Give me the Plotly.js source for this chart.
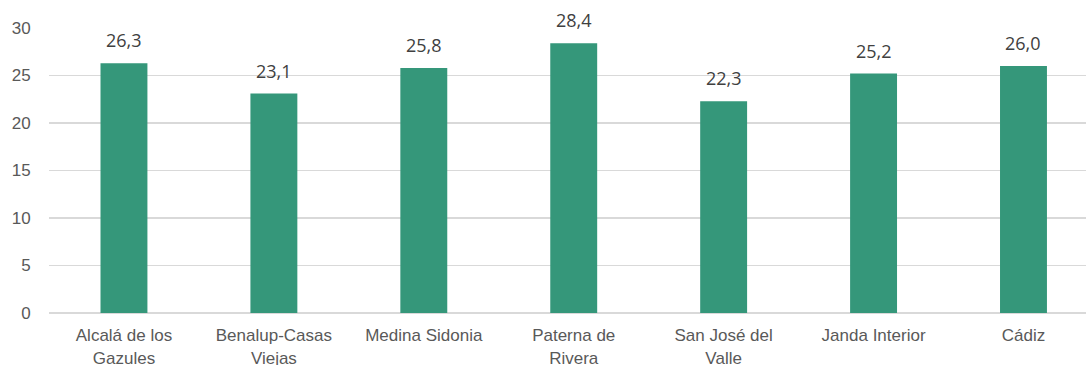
<!DOCTYPE html>
<html>
<head>
<meta charset="utf-8">
<script src="https://cdn.plot.ly/plotly-3.0.1.min.js"></script>
<style>
html,body{margin:0;padding:0;background:#fff;overflow:hidden;}
#chart{width:1086px;height:365px;}
</style>
</head>
<body>
<div id="chart"></div>
<script>
const categories = ["Alcalá de los<br>Gazules", "Benalup-Casas<br>Viejas", "Medina Sidonia", "Paterna de<br>Rivera", "San José del<br>Valle", "Janda Interior", "Cádiz"];
const values = [26.3, 23.1, 25.8, 28.4, 22.3, 25.2, 26.0];
const valueLabels = ["26,3", "23,1", "25,8", "28,4", "22,3", "25,2", "26,0"];
const yTicks = [0, 5, 10, 15, 20, 25, 30];

const trace = {
  type: 'bar',
  x: categories,
  y: values,
  width: 0.313,
  marker: {color: '#35977a', line: {width: 0}},
  hoverinfo: 'none'
};

const annotations = categories.map((c, i) => ({
  x: c, y: values[i], xref: 'x', yref: 'y',
  text: valueLabels[i], showarrow: false,
  yanchor: 'bottom', yshift: 9,
  font: {family: 'Open Sans, sans-serif', size: 18, color: '#404040'}
}));

const layout = {
  width: 1086, height: 365,
  margin: {l: 49, r: 0, t: 28, b: 52},
  paper_bgcolor: '#fff', plot_bgcolor: '#fff',
  showlegend: false,
  xaxis: {
    type: 'category',
    range: [-0.5, 6.417],
    showgrid: false, zeroline: false,
    showline: false,
    ticks: 'outside', ticklen: 7, tickcolor: 'rgba(0,0,0,0)',
    tickfont: {family: 'Liberation Sans, Arial, sans-serif', size: 17, color: '#595959'},
    automargin: false, fixedrange: true
  },
  yaxis: {
    range: [0, 30],
    tickvals: yTicks,
    ticktext: yTicks.map(String),
    showgrid: true, gridcolor: '#d9d9d9', gridwidth: 1.5,
    zeroline: true, zerolinecolor: '#d9d9d9', zerolinewidth: 1.5,
    ticks: 'outside', ticklen: 14, tickcolor: 'rgba(0,0,0,0)',
    tickfont: {family: 'Liberation Sans, Arial, sans-serif', size: 17, color: '#595959'},
    automargin: false, fixedrange: true
  },
  annotations: annotations
};

Plotly.newPlot('chart', [trace], layout, {displayModeBar: false, staticPlot: true});
</script>
</body>
</html>
